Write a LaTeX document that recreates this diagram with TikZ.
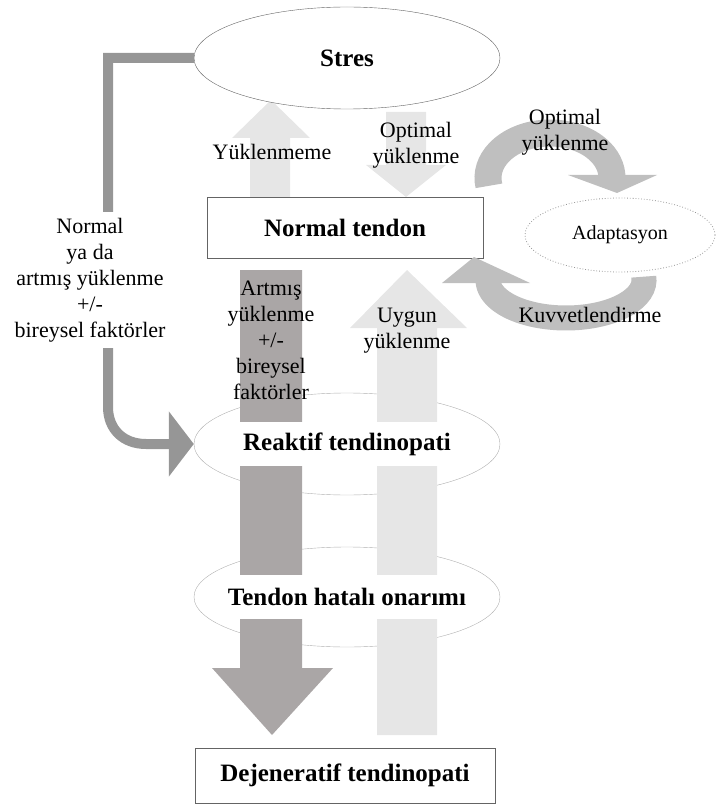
\documentclass[tikz,border=0pt]{standalone}
\usepackage{fontspec}
\setmainfont{Liberation Serif}
\usetikzlibrary{arrows.meta,positioning,shapes.geometric}
\definecolor{mLine}{RGB}{150,150,150}
\definecolor{mDark}{RGB}{170,166,166}
\definecolor{mLight}{RGB}{230,230,230}
\definecolor{mCycle}{RGB}{191,191,191}
\definecolor{mRing}{RGB}{175,175,175}
\definecolor{mEdge}{RGB}{100,100,100}

\begin{document}
\begin{tikzpicture}[x=1pt,y=-1pt,
    lbl/.style={align=center,font=\fontsize{22}{26}\selectfont,inner sep=0pt},
    ttl/.style={font=\fontsize{25}{29}\selectfont\bfseries},
    ring/.style={draw=mRing,ellipse,minimum width=306,minimum height=102,inner sep=0pt},
    tbox/.style={ttl,fill=white,minimum height=44,inner sep=4pt},
    boxed/.style={ttl,draw=mEdge,fill=white,thick}]
  \useasboundingbox (0,0) rectangle (716,805);

  \node[ring] (reaktifring) at (347,444) {};
  \node[ring,minimum height=100] (onarimring) at (347,597) {};

  \fill[mDark] (240,270) -- (302,270) -- (302,668) -- (333,668) -- (272,735) -- (212,668) -- (240,668) -- cycle;
  \fill[mLight] (377,735) -- (377,328) -- (350,328) -- (407,270) -- (467,328) -- (437,328) -- (437,735) -- cycle;

  \node[tbox] (reaktif) at (reaktifring) {Reaktif tendinopati};
  \node[tbox] (onarim) at (onarimring) {Tendon hatalı onarımı};

  \fill[mLight] (250,197) -- (250,138) -- (232,138) -- (271,100) -- (310,138) -- (290,138) -- (290,197) -- cycle;
  \fill[mLight] (386,112) -- (426,112) -- (426,165) -- (446,165) -- (406,197) -- (366,165) -- (386,165) -- cycle;

  \node[ellipse,draw=mEdge,fill=white,minimum width=306,minimum height=102,inner sep=0pt,ttl] (stres) at (347,58) {Stres};
  \node[boxed,minimum width=276,minimum height=61] (tendon) at (345,227.5) {Normal tendon};
  \node[boxed,minimum width=300,minimum height=55] (dejen) at (345,775.5) {Dejeneratif tendinopati};
  \node[ellipse,draw=mLine,dotted,thick,minimum width=190,minimum height=74,inner sep=0pt,
    font=\fontsize{20}{24}\selectfont] (adapt) at (620,235) {Adaptasyon};

  \draw[mCycle,line width=27] (550,178) ++(170:62 and 45) arc[start angle=170,end angle=360,x radius=62,y radius=45];
  \fill[mCycle] (568,175) -- (657,175) -- (617,193) -- cycle;
  \draw[mCycle,line width=25] (566,280) ++(-5:78 and 38) arc[start angle=-5,end angle=180,x radius=78,y radius=38];
  \fill[mCycle] (442,283) -- (530,283) -- (474,257) -- cycle;

  \draw[mLine,line width=10,-{Triangle[length=25pt,width=64pt]}] (stres.west) -- (108,58) -- (108,407)
    .. controls (108,429) and (123,444) .. (146,444) -- (reaktifring.west);
  \node[lbl,fill=white,inner sep=6pt] (bireysel) at (90,280) {Normal\\ya da\\artmış yüklenme\\+/-\\bireysel faktörler};

  \node[lbl] (yuklenmeme) at (272,152) {Yüklenmeme};
  \node[lbl] (optimal) at (416,145) {Optimal\\yüklenme};
  \node[lbl] (optcycle) at (565,132) {Optimal\\yüklenme};
  \node[lbl] (kuvvet) at (590,315) {Kuvvetlendirme};
  \node[lbl] (artmis) at (271,340) {Artmış\\yüklenme\\+/-\\bireysel\\faktörler};
  \node[lbl] (uygun) at (407,331) {Uygun\\yüklenme};
\end{tikzpicture}
\end{document}
